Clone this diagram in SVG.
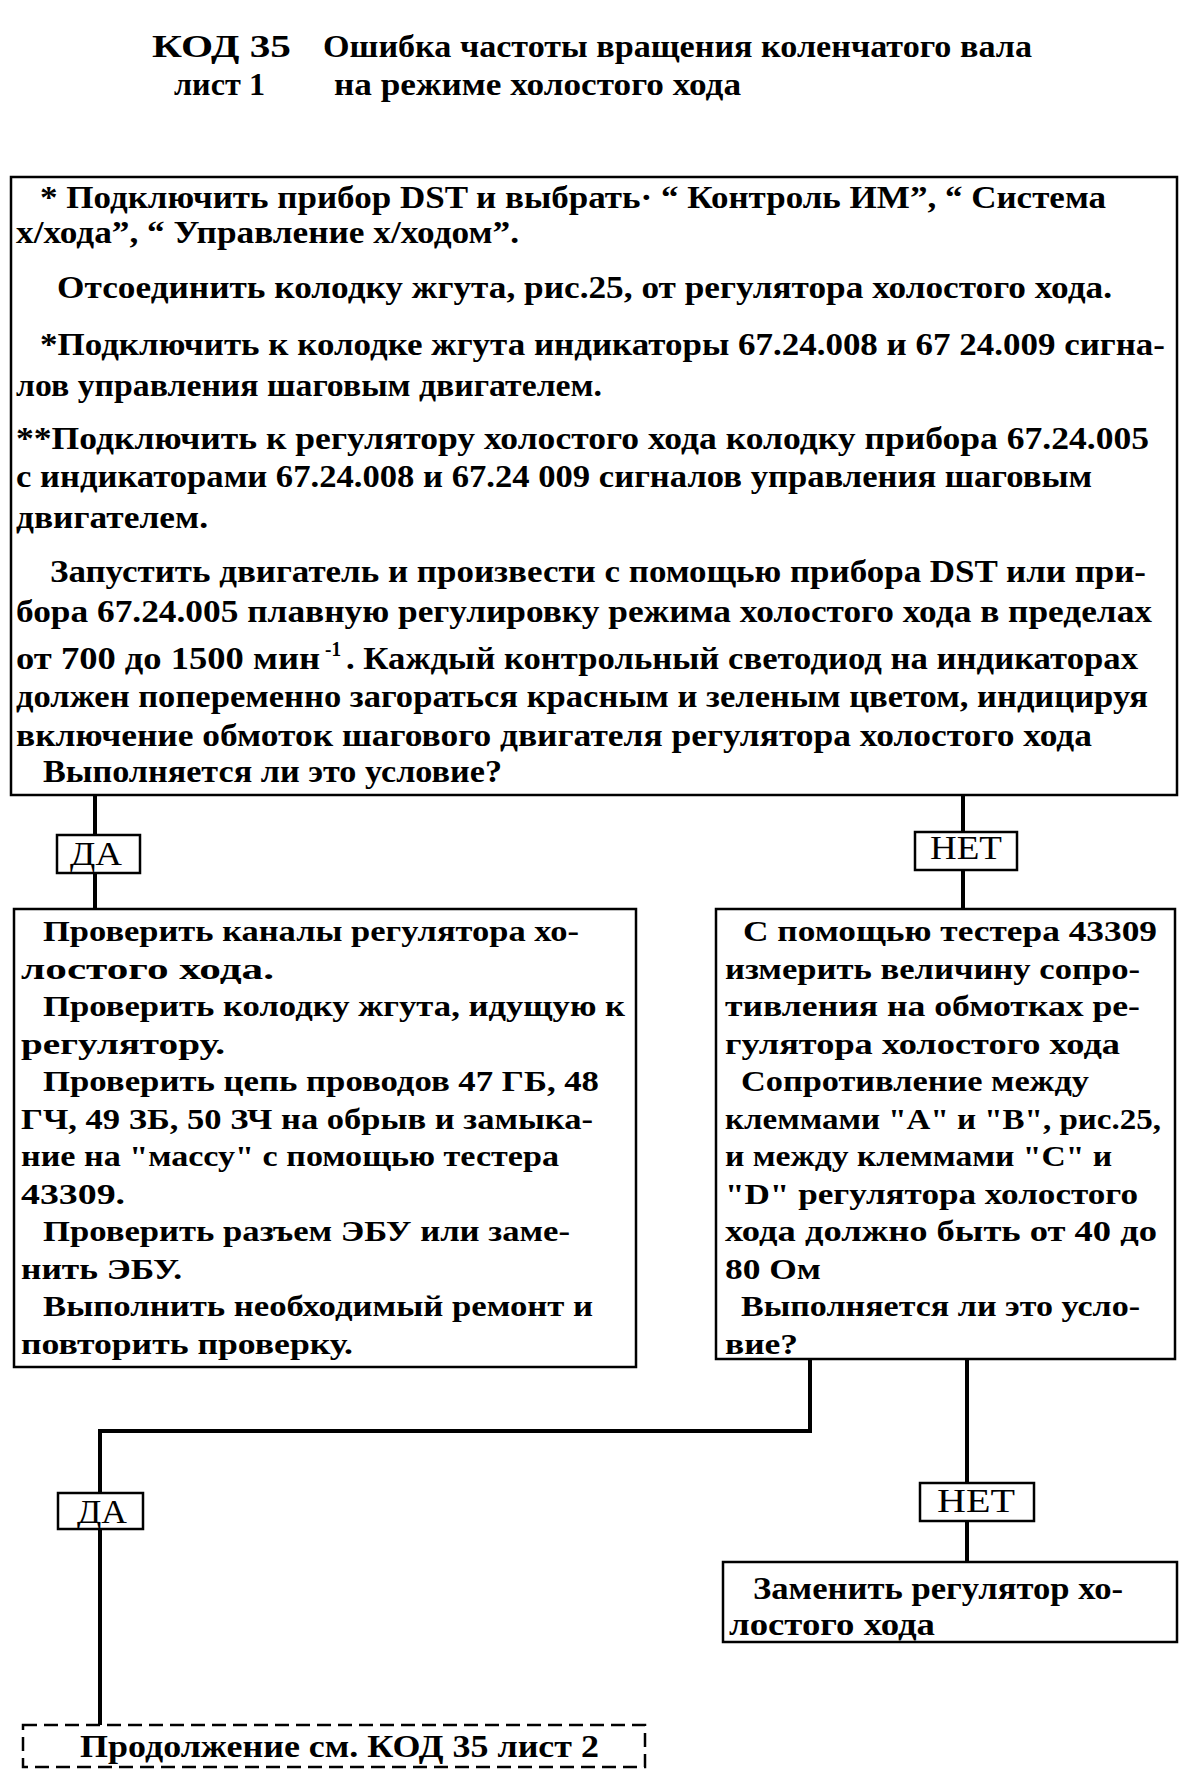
<svg xmlns="http://www.w3.org/2000/svg" width="1195" height="1788" viewBox="0 0 1195 1788">
<style>
.box{fill:#fff;stroke:#000;stroke-width:2.5}
.lbl{fill:#fff;stroke:#000;stroke-width:2.5}
.dash{fill:#fff;stroke:#000;stroke-width:2.5;stroke-dasharray:14 7}
.conn{fill:none;stroke:#000;stroke-width:4}
.c{font-family:"Liberation Serif",serif;font-weight:bold;font-size:32px;fill:#000}
.w{font-family:"Liberation Serif",serif;font-weight:bold;font-size:30px;fill:#000}
.l{font-family:"Liberation Serif",serif;font-size:33px;fill:#000}
.h{font-family:"Liberation Serif",serif;font-weight:bold;font-size:32px;fill:#000}
</style>
<rect width="1195" height="1788" fill="#fff"/>
<g id="title">
<text class="h" x="152" y="57" textLength="139" lengthAdjust="spacingAndGlyphs" font-size="36">КОД 35</text>
<text class="h" x="323" y="57" textLength="709" lengthAdjust="spacingAndGlyphs">Ошибка частоты вращения коленчатого вала</text>
<text class="h" x="174" y="95" textLength="91" lengthAdjust="spacingAndGlyphs">лист 1</text>
<text class="h" x="334" y="95" textLength="407" lengthAdjust="spacingAndGlyphs">на режиме холостого хода</text>
</g>
<g id="connectors">
<path class="conn" d="M95 795 V909"/>
<path class="conn" d="M963 795 V909"/>
<path class="conn" d="M810 1359 V1431 H100 V1725"/>
<path class="conn" d="M967 1359 V1562"/>
</g>
<g id="node-start">
<rect class="box" x="11" y="177" width="1166" height="618"/>
<text class="c" x="40" y="208" textLength="1066" lengthAdjust="spacingAndGlyphs">* Подключить прибор DST и выбрать· “ Контроль ИМ”, “ Система</text>
<text class="c" x="16" y="243" textLength="503" lengthAdjust="spacingAndGlyphs">х/хода”, “ Управление х/ходом”.</text>
<text class="c" x="57" y="298" textLength="1055" lengthAdjust="spacingAndGlyphs">Отсоединить колодку жгута, рис.25, от регулятора холостого хода.</text>
<text class="c" x="40" y="355" textLength="1125" lengthAdjust="spacingAndGlyphs">*Подключить к колодке жгута индикаторы 67.24.008 и 67 24.009 сигна-</text>
<text class="c" x="16" y="396" textLength="586" lengthAdjust="spacingAndGlyphs">лов управления шаговым двигателем.</text>
<text class="c" x="16" y="449" textLength="1133" lengthAdjust="spacingAndGlyphs">**Подключить к регулятору холостого хода колодку прибора 67.24.005</text>
<text class="c" x="16" y="487" textLength="1076" lengthAdjust="spacingAndGlyphs">с индикаторами 67.24.008 и 67.24 009 сигналов управления шаговым</text>
<text class="c" x="16" y="528" textLength="192" lengthAdjust="spacingAndGlyphs">двигателем.</text>
<text class="c" x="50" y="582" textLength="1096" lengthAdjust="spacingAndGlyphs">Запустить двигатель и произвести с помощью прибора DST или при-</text>
<text class="c" x="16" y="622" textLength="1136" lengthAdjust="spacingAndGlyphs">бора 67.24.005 плавную регулировку режима холостого хода в пределах</text>
<text class="c" x="16" y="669"><tspan textLength="304" lengthAdjust="spacingAndGlyphs">от 700 до 1500 мин</tspan><tspan x="325" y="656" font-size="20" textLength="16" lengthAdjust="spacingAndGlyphs">-1</tspan><tspan x="346" y="669" textLength="792" lengthAdjust="spacingAndGlyphs">. Каждый контрольный светодиод на индикаторах</tspan></text>
<text class="c" x="16" y="707" textLength="1132" lengthAdjust="spacingAndGlyphs">должен попеременно загораться красным и зеленым цветом, индицируя</text>
<text class="c" x="16" y="746" textLength="1076" lengthAdjust="spacingAndGlyphs">включение обмоток шагового двигателя регулятора холостого хода</text>
<text class="c" x="43" y="782" textLength="459" lengthAdjust="spacingAndGlyphs">Выполняется ли это условие?</text>
</g>
<g id="label-yes-1">
<rect class="lbl" x="57" y="835" width="83" height="38"/>
<text class="l" x="70" y="865" textLength="52" lengthAdjust="spacingAndGlyphs">ДА</text>
</g>
<g id="label-no-1">
<rect class="lbl" x="915" y="832" width="102" height="38"/>
<text class="l" x="930" y="859" font-size="27" textLength="72" lengthAdjust="spacingAndGlyphs">НЕТ</text>
</g>
<g id="node-check-channels">
<rect class="box" x="14" y="909" width="622" height="458"/>
<text class="w" x="43" y="941" textLength="536" lengthAdjust="spacingAndGlyphs">Проверить каналы регулятора хо-</text>
<text class="w" x="21" y="979" textLength="253" lengthAdjust="spacingAndGlyphs">лостого хода.</text>
<text class="w" x="43" y="1016" textLength="582" lengthAdjust="spacingAndGlyphs">Проверить колодку жгута, идущую к</text>
<text class="w" x="21" y="1054" textLength="204" lengthAdjust="spacingAndGlyphs">регулятору.</text>
<text class="w" x="43" y="1091" textLength="556" lengthAdjust="spacingAndGlyphs">Проверить цепь проводов 47 ГБ, 48</text>
<text class="w" x="21" y="1129" textLength="572" lengthAdjust="spacingAndGlyphs">ГЧ, 49 ЗБ, 50 ЗЧ на обрыв и замыка-</text>
<text class="w" x="21" y="1166" textLength="538" lengthAdjust="spacingAndGlyphs">ние на "массу" с помощью тестера</text>
<text class="w" x="21" y="1204" textLength="104" lengthAdjust="spacingAndGlyphs">43309.</text>
<text class="w" x="43" y="1241" textLength="527" lengthAdjust="spacingAndGlyphs">Проверить разъем ЭБУ или заме-</text>
<text class="w" x="21" y="1279" textLength="161" lengthAdjust="spacingAndGlyphs">нить ЭБУ.</text>
<text class="w" x="43" y="1316" textLength="550" lengthAdjust="spacingAndGlyphs">Выполнить необходимый ремонт и</text>
<text class="w" x="21" y="1354" textLength="332" lengthAdjust="spacingAndGlyphs">повторить проверку.</text>
</g>
<g id="node-measure">
<rect class="box" x="716" y="909" width="459" height="450"/>
<text class="w" x="743" y="941" textLength="414" lengthAdjust="spacingAndGlyphs">С помощью тестера 43309</text>
<text class="w" x="725" y="979" textLength="415" lengthAdjust="spacingAndGlyphs">измерить величину сопро-</text>
<text class="w" x="725" y="1016" textLength="415" lengthAdjust="spacingAndGlyphs">тивления на обмотках ре-</text>
<text class="w" x="725" y="1054" textLength="395" lengthAdjust="spacingAndGlyphs">гулятора холостого хода</text>
<text class="w" x="741" y="1091" textLength="348" lengthAdjust="spacingAndGlyphs">Сопротивление между</text>
<text class="w" x="725" y="1129" textLength="436" lengthAdjust="spacingAndGlyphs">клеммами "А" и "В", рис.25,</text>
<text class="w" x="725" y="1166" textLength="387" lengthAdjust="spacingAndGlyphs">и между клеммами "С" и</text>
<text class="w" x="725" y="1204" textLength="413" lengthAdjust="spacingAndGlyphs">"D" регулятора холостого</text>
<text class="w" x="725" y="1241" textLength="432" lengthAdjust="spacingAndGlyphs">хода должно быть от 40 до</text>
<text class="w" x="725" y="1279" textLength="96" lengthAdjust="spacingAndGlyphs">80 Ом</text>
<text class="w" x="741" y="1316" textLength="399" lengthAdjust="spacingAndGlyphs">Выполняется ли это усло-</text>
<text class="w" x="725" y="1354" textLength="73" lengthAdjust="spacingAndGlyphs">вие?</text>
</g>
<g id="label-yes-2">
<rect class="lbl" x="58" y="1493" width="85" height="36"/>
<text class="l" x="77" y="1523" font-size="34" textLength="50" lengthAdjust="spacingAndGlyphs">ДА</text>
</g>
<g id="label-no-2">
<rect class="lbl" x="920" y="1483" width="114" height="38"/>
<text class="l" x="937" y="1512" font-size="28" textLength="78" lengthAdjust="spacingAndGlyphs">НЕТ</text>
</g>
<g id="node-replace">
<rect class="box" x="723" y="1562" width="454" height="80"/>
<text class="c" x="753" y="1599" textLength="370" lengthAdjust="spacingAndGlyphs">Заменить регулятор хо-</text>
<text class="c" x="729" y="1635" textLength="206" lengthAdjust="spacingAndGlyphs">лостого хода</text>
</g>
<g id="node-continue">
<rect class="dash" x="23" y="1725" width="622" height="42"/>
<text class="c" x="80" y="1757" textLength="519" lengthAdjust="spacingAndGlyphs">Продолжение см. КОД 35 лист 2</text>
</g>
</svg>
